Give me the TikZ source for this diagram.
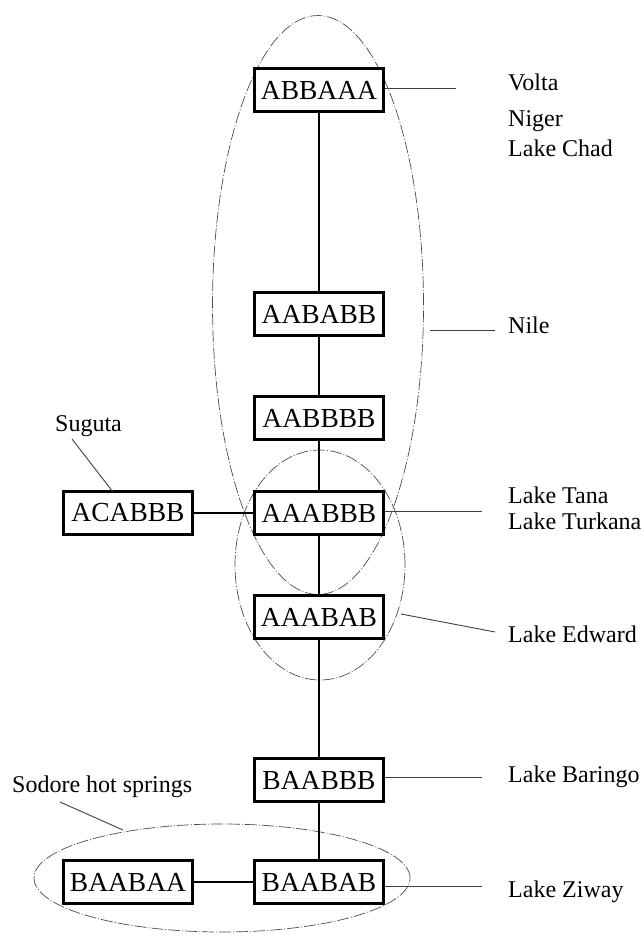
\documentclass[tikz,border=0pt]{standalone}
\usepackage{fontspec}
\setmainfont{Liberation Serif}
\usetikzlibrary{shapes.geometric}
\begin{document}
\begin{tikzpicture}[x=1pt,y=-1pt,
  seq/.style={draw, line width=2.6pt, minimum width=129pt, minimum height=43pt, inner sep=0pt, fill=white, font=\fontsize{27.5}{30}\selectfont},
  lab/.style={anchor=base west, inner sep=0pt, font=\fontsize{24}{28}\selectfont},
  link/.style={line width=2.8pt},
  grp/.style={ellipse, draw=black!70, line width=0.7pt, dash pattern=on 12pt off 2pt on 1pt off 2pt, inner sep=0pt},
  tag/.style={draw=black!75, line width=0.9pt}]
\useasboundingbox (0,0) rectangle (643,936);
% groups
\node[grp, minimum width=211pt, minimum height=579pt] (nileE) at (318,305) {};
\node[grp, minimum width=170pt, minimum height=230pt] (edwE) at (320,565) {};
\node[grp, minimum width=376pt, minimum height=108pt] (sodE) at (222,878) {};
% sequences
\node[seq] (abbaaa) at (319,90) {ABBAAA};
\node[seq] (aababb) at (319,314) {AABABB};
\node[seq] (aabbbb) at (319,418) {AABBBB};
\node[seq] (aaabbb) at (319,513) {AAABBB};
\node[seq] (acabbb) at (128,513) {ACABBB};
\node[seq] (aaabab) at (319,617) {AAABAB};
\node[seq] (baabbb) at (319,780) {BAABBB};
\node[seq] (baabab) at (319,882) {BAABAB};
\node[seq] (baabaa) at (128,882) {BAABAA};
% links
\draw[link] (abbaaa) -- (aababb);
\draw[link] (aababb) -- (aabbbb);
\draw[link] (aabbbb) -- (aaabbb);
\draw[link] (aaabbb) -- (aaabab);
\draw[link] (aaabab) -- (baabbb);
\draw[link] (baabbb) -- (baabab);
\draw[link] (acabbb) -- (aaabbb);
\draw[link] (baabaa) -- (baabab);
% labels
\node[lab] (volta) at (508,91) {Volta};
\node[lab] (niger) at (508,127) {Niger};
\node[lab] (chad) at (508,157) {Lake Chad};
\node[lab] (nile) at (508,333) {Nile};
\node[lab] (tana) at (508,503) {Lake Tana};
\node[lab] (turkana) at (508,529) {Lake Turkana};
\node[lab] (edward) at (508,642) {Lake Edward};
\node[lab] (baringo) at (508,782) {Lake Baringo};
\node[lab] (ziway) at (508,897) {Lake Ziway};
\node[lab] (suguta) at (55,431) {Suguta};
\node[lab] (sodore) at (12,792) {Sodore hot springs};
% label leaders
\coordinate (voltaEnd) at (456,88);
\coordinate (nileStart) at (430,330);
\coordinate (nileEnd) at (495,330);
\coordinate (tanaEnd) at (482,511);
\coordinate (edwStart) at (401,614);
\coordinate (edwEnd) at (495,632);
\coordinate (barEnd) at (482,777);
\coordinate (ziwEnd) at (482,886);
\coordinate (sugStart) at (72,439);
\coordinate (sugEnd) at (113,492);
\coordinate (sodStart) at (60,802);
\coordinate (sodEnd) at (123,830);
\draw[tag] (abbaaa.east |- voltaEnd) -- (voltaEnd);
\draw[tag] (nileStart) -- (nileEnd);
\draw[tag] (aaabbb.east |- tanaEnd) -- (tanaEnd);
\draw[tag] (edwStart) -- (edwEnd);
\draw[tag] (baabbb.east |- barEnd) -- (barEnd);
\draw[tag] (baabab.east |- ziwEnd) -- (ziwEnd);
\draw[tag] (sugStart) -- (sugEnd);
\draw[tag] (sodStart) -- (sodEnd);
\end{tikzpicture}
\end{document}
